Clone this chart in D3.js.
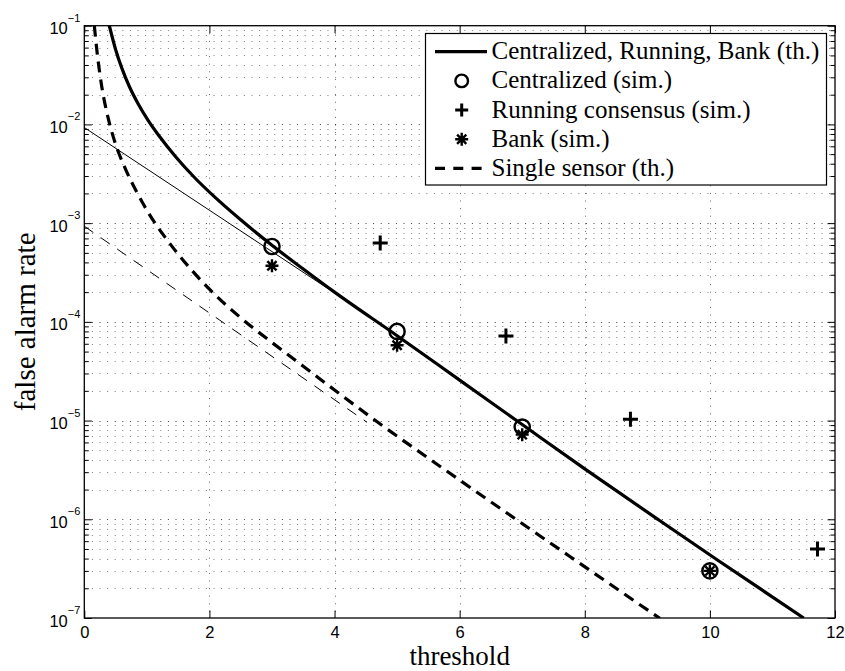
<!DOCTYPE html>
<html>
<head>
<meta charset="utf-8">
<script src="https://cdn.jsdelivr.net/npm/d3@7"></script>
<style>
  html, body { margin: 0; padding: 0; background: #fff; }
  svg { display: block; }
</style>
</head>
<body>
<svg id="chart" width="845" height="671"></svg>
<script>
// Axis ticks
const thresholdTicks = [0, 2, 4, 6, 8, 10, 12];
const rateDecades = [-7, -6, -5, -4, -3, -2, -1];

// Theoretical false alarm rate versus threshold: [threshold, rate]
const centralizedTheory = [
  [0.40, 1.0e-1], [0.50, 5.75e-2], [0.60, 3.72e-2], [0.72, 2.42e-2], [0.86, 1.62e-2],
  [1.02, 1.10e-2], [1.20, 7.59e-3], [1.45, 4.79e-3], [1.75, 2.95e-3], [2.10, 1.80e-3],
  [2.50, 1.08e-3], [3.00, 5.96e-4], [3.50, 3.43e-4], [4.00, 2.0e-4], [5.00, 7.24e-5],
  [6.00, 2.57e-5], [7.00, 9.12e-6], [8.00, 3.24e-6], [9.19, 9.77e-7], [10.15, 3.76e-7],
  [11.50, 1.0e-7]
];
const singleSensorTheory = [
  [0.16, 1.0e-1], [0.21, 5.01e-2], [0.28, 2.40e-2], [0.38, 1.17e-2], [0.50, 6.31e-3],
  [0.65, 3.63e-3], [0.85, 2.0e-3], [1.05, 1.20e-3], [1.30, 7.08e-4], [1.60, 4.07e-4],
  [2.00, 2.14e-4], [2.50, 1.10e-4], [3.00, 6.17e-5], [3.50, 3.55e-5], [4.00, 2.04e-5],
  [4.73, 9.23e-6], [5.70, 3.39e-6], [6.90, 1.0e-6], [8.10, 2.99e-7], [9.20, 9.9e-8]
];

// Straight-line (exponential) approximations
const centralizedAsymptote = [[0, 9.3e-3], [4.6, 1.1e-4]];
const singleSensorAsymptote = [[0, 9.3e-4], [4.52, 9.6e-6]];

// Simulated false alarm rates
const centralizedSim = [[3, 5.8e-4], [5, 8.0e-5], [7, 8.6e-6], [10, 3.0e-7]];
const runningSim = [[4.73, 6.3e-4], [6.74, 7.2e-5], [8.73, 1.03e-5], [11.72, 5.0e-7]];
const bankSim = [[3, 3.7e-4], [5, 5.8e-5], [7, 7.2e-6], [10, 3.0e-7]];

const legendLabels = [
  "Centralized, Running, Bank (th.)",
  "Centralized (sim.)",
  "Running consensus (sim.)",
  "Bank (sim.)",
  "Single sensor (th.)"
];

const box = { left: 84.3, right: 835, top: 25.7, bottom: 618 };
const svg = d3.select("#chart");

const x = d3.scaleLinear().domain([0, 12]).range([box.left, box.right]);
const y = d3.scaleLog().domain([1e-7, 1e-1]).range([box.bottom, box.top]);

const majorRates = rateDecades.map(k => Math.pow(10, k));
const minorRates = [];
rateDecades.slice(0, -1).forEach(k => {
  for (let m = 2; m <= 9; m++) minorRates.push(m * Math.pow(10, k));
});

// Dotted grid
const grid = svg.append("g").attr("fill", "none").attr("stroke", "#000")
  .attr("stroke-width", 1).attr("stroke-dasharray", "1,6.6");
grid.selectAll("line.minor").data(minorRates).join("line")
  .attr("class", "minor")
  .attr("x1", box.left).attr("x2", box.right)
  .attr("y1", d => Math.round(y(d)) + 0.5).attr("y2", d => Math.round(y(d)) + 0.5)
  .attr("stroke-opacity", 0.5);
grid.selectAll("line.major").data(majorRates.slice(1, -1)).join("line")
  .attr("class", "major")
  .attr("x1", box.left).attr("x2", box.right)
  .attr("y1", d => Math.round(y(d)) + 0.5).attr("y2", d => Math.round(y(d)) + 0.5)
  .attr("stroke-opacity", 0.75);
grid.selectAll("line.vert").data(thresholdTicks.slice(1, -1)).join("line")
  .attr("class", "vert")
  .attr("y1", box.top).attr("y2", box.bottom)
  .attr("x1", d => Math.round(x(d)) + 0.5).attr("x2", d => Math.round(x(d)) + 0.5)
  .attr("stroke-opacity", 0.6);

// Curves, clipped to the axes box
svg.append("defs").append("clipPath").attr("id", "plotClip")
  .append("rect").attr("x", box.left).attr("y", box.top)
  .attr("width", box.right - box.left).attr("height", box.bottom - box.top);

const plot = svg.append("g").attr("clip-path", "url(#plotClip)");
const curveLine = d3.line().x(d => x(d[0])).y(d => y(d[1])).curve(d3.curveMonotoneX);
const straight = d3.line().x(d => x(d[0])).y(d => y(d[1]));

plot.append("path").datum(centralizedAsymptote).attr("d", straight)
  .attr("fill", "none").attr("stroke", "#000").attr("stroke-width", 1);
plot.append("path").datum(singleSensorAsymptote).attr("d", straight)
  .attr("fill", "none").attr("stroke", "#000").attr("stroke-width", 1)
  .attr("stroke-dasharray", "11,9");
plot.append("path").datum(singleSensorTheory).attr("d", curveLine)
  .attr("fill", "none").attr("stroke", "#000").attr("stroke-width", 3.2)
  .attr("stroke-dasharray", "11,7");
plot.append("path").datum(centralizedTheory).attr("d", curveLine)
  .attr("fill", "none").attr("stroke", "#000").attr("stroke-width", 3.2);

// Markers
const starPath = "M-6.5,0H6.5M0,-6.5V6.5M-4.6,-4.6L4.6,4.6M-4.6,4.6L4.6,-4.6";
const plusPath = s => `M${-s},0H${s}M0,${-s}V${s}`;

const marks = svg.append("g").attr("fill", "none").attr("stroke", "#000");
marks.selectAll("circle.sim").data(centralizedSim).join("circle")
  .attr("class", "sim")
  .attr("cx", d => x(d[0])).attr("cy", d => y(d[1])).attr("r", 7.6)
  .attr("stroke-width", 2.4);
marks.selectAll("path.bank").data(bankSim).join("path")
  .attr("class", "bank")
  .attr("transform", d => `translate(${x(d[0])},${y(d[1])})`)
  .attr("d", starPath).attr("stroke-width", 2.4);
marks.selectAll("path.run").data(runningSim).join("path")
  .attr("class", "run")
  .attr("transform", d => `translate(${x(d[0])},${y(d[1])})`)
  .attr("d", plusPath(7.5)).attr("stroke-width", 3);

// Axes (ticks inward on all four sides)
const tickFont = "'Liberation Sans', Arial, Helvetica, sans-serif";
function styleAxis(g) {
  g.select(".domain").remove();
  g.selectAll(".tick line").attr("stroke", "#000").attr("stroke-width", 1);
}

svg.append("g").attr("transform", `translate(0,${box.bottom})`)
  .call(d3.axisBottom(x).tickValues(thresholdTicks).tickSize(-7.5).tickPadding(0).tickFormat(d3.format("d")))
  .call(styleAxis)
  .call(g => g.selectAll(".tick text")
    .attr("y", 19.5).attr("dy", null)
    .attr("font-family", tickFont).attr("font-size", 16.5).attr("fill", "#000"));

svg.append("g").attr("transform", `translate(0,${box.top})`)
  .call(d3.axisTop(x).tickValues(thresholdTicks).tickSize(-7.5).tickFormat(""))
  .call(styleAxis);

const leftAxis = svg.append("g").attr("transform", `translate(${box.left},0)`)
  .call(d3.axisLeft(y).tickValues(majorRates).tickSize(-7.5).tickFormat(() => ""))
  .call(styleAxis);
leftAxis.selectAll(".tick text").each(function(d) {
  const t = d3.select(this)
    .attr("x", -4).attr("dy", null).attr("y", 8)
    .attr("text-anchor", "end")
    .attr("font-family", tickFont).attr("font-size", 16.5).attr("fill", "#000");
  t.text(null);
  t.append("tspan").text("10");
  t.append("tspan").attr("dy", -12.5).attr("font-size", 11)
    .text("\u2212" + Math.round(-Math.log10(d)));
});

svg.append("g").attr("transform", `translate(${box.left},0)`)
  .call(d3.axisLeft(y).tickValues(minorRates).tickSize(-4.5).tickFormat(""))
  .call(styleAxis);
svg.append("g").attr("transform", `translate(${box.right},0)`)
  .call(d3.axisRight(y).tickValues(majorRates).tickSize(-7.5).tickFormat(""))
  .call(styleAxis);
svg.append("g").attr("transform", `translate(${box.right},0)`)
  .call(d3.axisRight(y).tickValues(minorRates).tickSize(-4.5).tickFormat(""))
  .call(styleAxis);

// Frame
svg.append("rect")
  .attr("x", box.left).attr("y", box.top)
  .attr("width", box.right - box.left).attr("height", box.bottom - box.top)
  .attr("fill", "none").attr("stroke", "#000").attr("stroke-width", 1.3);

// Axis titles
const serif = "'Liberation Serif', 'Times New Roman', Times, serif";
svg.append("text")
  .attr("x", (box.left + box.right) / 2).attr("y", 665)
  .attr("text-anchor", "middle")
  .attr("font-family", serif).attr("font-size", 27).attr("fill", "#000")
  .text("threshold");
svg.append("text")
  .attr("transform", `translate(35,${(box.top + box.bottom) / 2}) rotate(-90)`)
  .attr("text-anchor", "middle")
  .attr("font-family", serif).attr("font-size", 29).attr("fill", "#000")
  .text("false alarm rate");

// Legend
const legend = svg.append("g");
legend.append("rect")
  .attr("x", 425.5).attr("y", 33.5).attr("width", 401).attr("height", 151.5)
  .attr("fill", "#fff").attr("stroke", "#000").attr("stroke-width", 1.2);

const rowBase = d3.scaleLinear().domain([0, 4]).range([59.3, 176]);
const symX = 461.7;
legendLabels.forEach((label, i) => {
  const base = rowBase(i);
  const cy = base - 7.6;
  legend.append("text")
    .attr("x", 491.5).attr("y", base)
    .attr("font-family", serif).attr("font-size", 25).attr("fill", "#000")
    .text(label);
  if (i === 0) {
    legend.append("line").attr("x1", 435).attr("x2", 487).attr("y1", cy).attr("y2", cy)
      .attr("stroke", "#000").attr("stroke-width", 3.2);
  } else if (i === 4) {
    legend.append("line").attr("x1", 435).attr("x2", 487).attr("y1", cy).attr("y2", cy)
      .attr("stroke", "#000").attr("stroke-width", 3.2).attr("stroke-dasharray", "10,8.3");
  } else if (i === 1) {
    legend.append("circle").attr("cx", symX).attr("cy", cy).attr("r", 6.3)
      .attr("fill", "none").attr("stroke", "#000").attr("stroke-width", 2.4);
  } else if (i === 2) {
    legend.append("path").attr("transform", `translate(${symX},${cy})`)
      .attr("d", plusPath(6.5)).attr("fill", "none").attr("stroke", "#000").attr("stroke-width", 3);
  } else {
    legend.append("path").attr("transform", `translate(${symX},${cy})`)
      .attr("d", starPath).attr("fill", "none").attr("stroke", "#000").attr("stroke-width", 2.4);
  }
});
</script>
</body>
</html>
